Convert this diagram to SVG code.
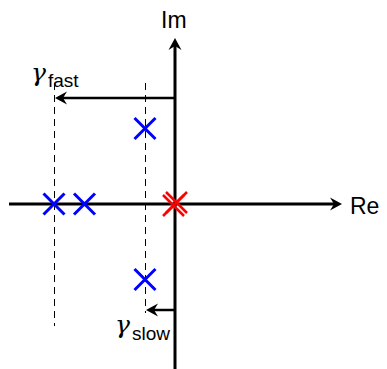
<svg xmlns="http://www.w3.org/2000/svg" width="387" height="369" viewBox="0 0 387 369">
  <style>
    .axis { stroke: #000; stroke-width: 3; fill: none; }
    .rate { stroke: #000; stroke-width: 2.5; fill: none; }
    .guide { stroke: #000; stroke-width: 1; stroke-dasharray: 7 5; fill: none; }
    .pole { stroke: #0000ff; stroke-width: 3; fill: none; }
    .origin { stroke: #ff0000; stroke-width: 2.5; fill: none; }
    .head { fill: #000; stroke: none; }
    .lbl { font-family: "Liberation Sans", Arial, sans-serif; fill: #000; }
    .sym { font-family: "DejaVu Serif", "Liberation Serif", serif; font-style: italic; fill: #000; }
  </style>
  <defs>
    <path id="tip" class="head" d="M0,0 L-12,-6.5 L-8,0 L-12,6.5 Z"/>
    <path id="cross" d="M-10.5,-10.5 L10.5,10.5 M-10.5,10.5 L10.5,-10.5"/>
  </defs>

  <rect width="387" height="369" fill="#fff"/>

  <g id="connectors">
    <!-- dashed guides at the decay rates -->
    <line class="guide" x1="54.5" y1="83" x2="54.5" y2="326"/>
    <line class="guide" x1="145.5" y1="83" x2="145.5" y2="313"/>

    <!-- real axis -->
    <line class="axis" x1="9" y1="204" x2="334" y2="204"/>
    <use href="#tip" transform="translate(342,204)"/>
    <!-- imaginary axis -->
    <line class="axis" x1="175" y1="369" x2="175" y2="46"/>
    <use href="#tip" transform="translate(175,38) rotate(-90)"/>

    <!-- fast rate arrow -->
    <line class="rate" x1="175" y1="98" x2="63" y2="98"/>
    <use href="#tip" transform="translate(55,98) rotate(180)"/>
    <!-- slow rate arrow -->
    <line class="rate" x1="175" y1="310" x2="154" y2="310"/>
    <use href="#tip" transform="translate(146,310) rotate(180)"/>
  </g>

  <g id="pole-upper"><use href="#cross" class="pole" transform="translate(145,128.5)"/></g>
  <g id="pole-lower"><use href="#cross" class="pole" transform="translate(145,279.5)"/></g>
  <g id="pole-fast"><use href="#cross" class="pole" transform="translate(54,204)"/></g>
  <g id="pole-mid"><use href="#cross" class="pole" transform="translate(84.5,204)"/></g>
  <g id="pole-origin">
    <use href="#cross" class="origin" transform="translate(173.5,205.5)"/>
    <use href="#cross" class="origin" transform="translate(176.5,202.5)"/>
  </g>

  <g id="labels">
    <text class="lbl" x="161" y="28" font-size="23">Im</text>
    <text class="lbl" x="350" y="214" font-size="23">Re</text>
    <text class="sym" x="31" y="81" font-size="25">γ</text>
    <text class="lbl" x="48" y="87" font-size="19">fast</text>
    <text class="sym" x="115" y="333" font-size="25">γ</text>
    <text class="lbl" x="132" y="340" font-size="19">slow</text>
  </g>
</svg>
